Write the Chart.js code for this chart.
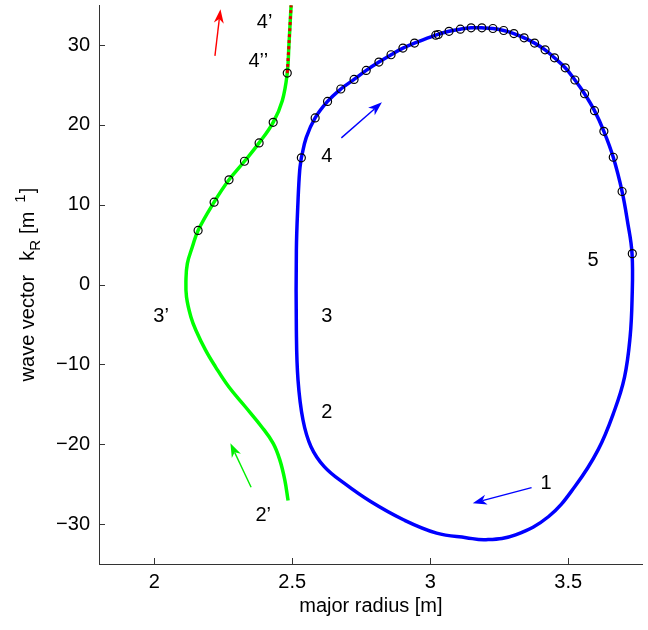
<!DOCTYPE html>
<html>
<head>
<meta charset="utf-8">
<script src="https://cdn.jsdelivr.net/npm/chart.js@4.4.1/dist/chart.umd.min.js"></script>
<style>
  body { margin: 0; background: #fff; }
</style>
</head>
<body>
<canvas id="rayChart" width="648" height="630"></canvas>
<script>
// tick labels
const xTicks = [2, 2.5, 3, 3.5];
const yTicks = [-30, -20, -10, 0, 10, 20, 30];

// blue ray: closed loop, major radius R [m] and k_R [1/m]
const blueR = [2.533, 2.551, 2.583, 2.628, 2.676, 2.724, 2.768, 2.814, 2.858, 2.901, 2.943, 3.020, 3.068, 3.109, 3.148, 3.187, 3.227, 3.266, 3.303, 3.340, 3.378, 3.416, 3.450, 3.489, 3.524, 3.559, 3.595, 3.629, 3.663, 3.695, 3.714, 3.731,
  3.731, 3.724, 3.704, 3.668, 3.608, 3.524, 3.429, 3.309, 3.202, 3.130, 3.023, 2.903, 2.784, 2.688, 2.616, 2.568, 2.539, 2.521, 2.515, 2.515, 2.521, 2.527, 2.533];
const blueK = [15.88, 18.45, 20.88, 22.95, 24.5, 25.7, 26.83, 27.88, 28.79, 29.63, 30.25, 31.25, 31.73, 32.0, 32.16, 32.16, 32.08, 31.83, 31.45, 30.91, 30.25, 29.41, 28.41, 27.16, 25.63, 23.91, 21.79, 19.2, 15.95, 11.66, 8.04, 3.88,
  -1.96, -6.55, -11.55, -15.71, -20.71, -25.3, -29.05, -31.34, -31.96, -31.7, -31.13, -29.46, -27.18, -24.88, -22.8, -20.3, -16.96, -11.96, -5.71, 4.3, 10.5, 14.29, 15.88];
// circle markers on the blue ray
const blueMarkR = [2.533, 2.583, 2.628, 2.676, 2.724, 2.768, 2.814, 2.858, 2.901, 2.943, 3.020, 3.029, 3.068, 3.109, 3.148, 3.187, 3.227, 3.266, 3.303, 3.340, 3.378, 3.416, 3.450, 3.489, 3.524, 3.559, 3.595, 3.629, 3.663, 3.695, 3.732];
const blueMarkK = [15.88, 20.88, 22.95, 24.5, 25.7, 26.83, 27.88, 28.79, 29.63, 30.25, 31.25, 31.33, 31.73, 32.0, 32.16, 32.16, 32.08, 31.83, 31.45, 30.91, 30.25, 29.41, 28.41, 27.16, 25.63, 23.91, 21.79, 19.2, 15.95, 11.66, 3.88];

// green ray, from the bottom upwards
const greenR = [2.485, 2.473, 2.455, 2.431, 2.389, 2.330, 2.270, 2.222, 2.186, 2.151, 2.133, 2.117, 2.115, 2.120, 2.138, 2.159, 2.217, 2.271, 2.327, 2.380, 2.431, 2.464, 2.482, 2.488, 2.492, 2.496];
const greenK = [-27.05, -24.46, -21.96, -19.88, -17.8, -15.3, -12.8, -10.3, -8.21, -5.71, -4.05, -1.55, 0.54, 2.63, 4.7, 6.79, 10.33, 13.13, 15.45, 17.75, 20.33, 23.04, 26.5, 30, 32.5, 35];
const greenMarkR = [2.159, 2.217, 2.271, 2.327, 2.380, 2.431, 2.482];
const greenMarkK = [6.79, 10.33, 13.13, 15.45, 17.75, 20.33, 26.5];
// red/green dashed part at the top
const dashR = [2.482, 2.488, 2.492, 2.496];
const dashK = [26.5, 30, 32.5, 35];

// text labels
const labelText = ['4', '3', '2', '5', '1', '3\u2019', '2\u2019', '4\u2019', '4\u2019\u2019'];
const labelR = [2.625, 2.625, 2.625, 3.59, 3.42, 2.025, 2.395, 2.40, 2.377];
const labelK = [16, -4, -16, 3, -24.9, -4, -28.9, 32.8, 27.9];

// arrows: tail -> head
const arrowColor = ['#ff0000', '#0000ff', '#0000ff', '#00ee00'];
const arrowTailR = [2.220, 2.678, 3.367, 2.351];
const arrowTailK = [28.66, 18.38, -25.43, -25.38];
const arrowHeadR = [2.240, 2.825, 3.154, 2.276];
const arrowHeadK = [34.5, 22.83, -27.38, -19.88];

const FONT = '"Liberation Sans", Helvetica, Arial, sans-serif';

function pts(xs, ys) {
    return xs.map((x, i) => ({ x: x, y: ys[i] }));
}

const annotate = {
    id: 'annotate',
    afterDatasetsDraw(chart) {
        const ctx = chart.ctx;
        const xs = chart.scales.x, ys = chart.scales.y;
        ctx.save();
        // arrows
        for (let i = 0; i < arrowColor.length; i++) {
            const x0 = xs.getPixelForValue(arrowTailR[i]), y0 = ys.getPixelForValue(arrowTailK[i]);
            const x1 = xs.getPixelForValue(arrowHeadR[i]), y1 = ys.getPixelForValue(arrowHeadK[i]);
            const a = Math.atan2(y1 - y0, x1 - x0);
            const len = 14, hw = 5, notch = 10;
            ctx.strokeStyle = arrowColor[i];
            ctx.fillStyle = arrowColor[i];
            ctx.lineWidth = 1.4;
            ctx.beginPath();
            ctx.moveTo(x0, y0);
            ctx.lineTo(x1 - Math.cos(a) * notch, y1 - Math.sin(a) * notch);
            ctx.stroke();
            ctx.beginPath();
            ctx.moveTo(x1, y1);
            ctx.lineTo(x1 - Math.cos(a) * len - Math.sin(a) * hw, y1 - Math.sin(a) * len + Math.cos(a) * hw);
            ctx.lineTo(x1 - Math.cos(a) * notch, y1 - Math.sin(a) * notch);
            ctx.lineTo(x1 - Math.cos(a) * len + Math.sin(a) * hw, y1 - Math.sin(a) * len - Math.cos(a) * hw);
            ctx.closePath();
            ctx.fill();
        }
        // labels
        ctx.fillStyle = '#000';
        ctx.font = '20px ' + FONT;
        ctx.textAlign = 'center';
        ctx.textBaseline = 'middle';
        for (let i = 0; i < labelText.length; i++) {
            ctx.fillText(labelText[i], xs.getPixelForValue(labelR[i]), ys.getPixelForValue(labelK[i]));
        }
        ctx.restore();
    },
    afterDraw(chart) {
        const ctx = chart.ctx;
        const xs = chart.scales.x, ys = chart.scales.y;
        const area = chart.chartArea;
        ctx.save();
        // inward ticks, matlab style
        ctx.strokeStyle = '#333';
        ctx.lineWidth = 1;
        ctx.beginPath();
        xTicks.forEach(v => {
            const px = Math.round(xs.getPixelForValue(v)) + 0.5;
            ctx.moveTo(px, area.bottom);
            ctx.lineTo(px, area.bottom - 6);
        });
        yTicks.forEach(v => {
            const py = Math.round(ys.getPixelForValue(v)) + 0.5;
            ctx.moveTo(area.left, py);
            ctx.lineTo(area.left + 6, py);
        });
        ctx.stroke();

        // x title
        ctx.fillStyle = '#000';
        ctx.font = '20px ' + FONT;
        ctx.textAlign = 'center';
        ctx.textBaseline = 'middle';
        ctx.fillText('major radius [m]', (area.left + area.right) / 2, 606);

        // y title with subscript / superscript (tex-like spacing)
        const big = '20px ' + FONT, small = '15px ' + FONT;
        const parts = [
            { t: 'wave vector', f: big, dy: 0, gap: 14 },
            { t: 'k', f: big, dy: 0, gap: 0 },
            { t: 'R', f: small, dy: 6, gap: 6 },
            { t: '[m', f: big, dy: 0, gap: 9 },
            { t: '1', f: small, dy: -9, gap: 1 },
            { t: ']', f: big, dy: 0, gap: 0 }
        ];
        let total = 0;
        parts.forEach(p => { ctx.font = p.f; p.w = ctx.measureText(p.t).width; total += p.w + p.gap; });
        ctx.translate(34, (area.top + area.bottom) / 2);
        ctx.rotate(-Math.PI / 2);
        ctx.textAlign = 'left';
        ctx.textBaseline = 'alphabetic';
        let cx = -total / 2;
        parts.forEach(p => {
            ctx.font = p.f;
            ctx.fillText(p.t, cx, p.dy);
            cx += p.w + p.gap;
        });
        ctx.restore();
    }
};

const ctx = document.getElementById('rayChart').getContext('2d');
const rayChart = new Chart(ctx, {
    type: 'scatter',
    data: {
        datasets: [
            {
                data: pts(blueMarkR, blueMarkK),
                showLine: false,
                pointRadius: 4,
                pointBorderColor: '#000',
                pointBackgroundColor: 'rgba(0,0,0,0)',
                pointBorderWidth: 1.2
            },
            {
                data: pts(greenMarkR, greenMarkK),
                showLine: false,
                pointRadius: 4,
                pointBorderColor: '#000',
                pointBackgroundColor: 'rgba(0,0,0,0)',
                pointBorderWidth: 1.2
            },
            {
                data: pts(dashR, dashK),
                showLine: true,
                borderColor: '#e00000',
                borderWidth: 3,
                borderDash: [3, 3],
                pointRadius: 0,
                tension: 0.4
            },
            {
                data: pts(greenR, greenK),
                showLine: true,
                borderColor: '#00ff00',
                borderWidth: 3.5,
                pointRadius: 0,
                tension: 0.4
            },
            {
                data: pts(blueR, blueK),
                showLine: true,
                borderColor: '#0000ff',
                borderWidth: 3.5,
                pointRadius: 0,
                tension: 0.4
            }
        ]
    },
    options: {
        responsive: false,
        animation: false,
        layout: { padding: { top: 4, right: 0, bottom: 0, left: 0 } },
        plugins: {
            legend: { display: false },
            tooltip: { enabled: false }
        },
        scales: {
            x: {
                type: 'linear',
                min: 1.8,
                max: 3.77,
                afterBuildTicks: s => { s.ticks = xTicks.map(v => ({ value: v })); },
                afterFit: s => { s.height = 66; s.paddingLeft = 0; s.paddingRight = 0; },
                grid: { display: true, drawOnChartArea: false, drawTicks: false },
                border: { display: true, color: '#333', width: 1 },
                ticks: {
                    color: '#000',
                    padding: 6,
                    maxRotation: 0,
                    font: { family: FONT, size: 20 },
                    callback: v => String(v)
                }
            },
            y: {
                type: 'linear',
                min: -35,
                max: 35,
                afterBuildTicks: s => { s.ticks = yTicks.map(v => ({ value: v })); },
                afterFit: s => { s.width = 99; s.paddingTop = 0; s.paddingBottom = 0; },
                grid: { display: true, drawOnChartArea: false, drawTicks: false },
                border: { display: true, color: '#333', width: 1 },
                ticks: {
                    color: '#000',
                    padding: 9,
                    font: { family: FONT, size: 20 },
                    callback: v => v < 0 ? '\u2212' + Math.abs(v) : String(v)
                }
            }
        }
    },
    plugins: [annotate]
});
</script>
</body>
</html>
